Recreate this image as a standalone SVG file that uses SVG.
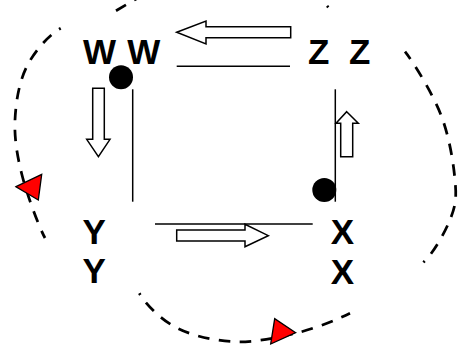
<svg xmlns="http://www.w3.org/2000/svg" width="466" height="348" viewBox="0 0 466 348">
  <style>
    .lbl { font-family: "Liberation Sans", Arial, sans-serif; font-weight: bold; font-size: 35px; fill: #000; text-anchor: middle; }
    .edge { fill: none; stroke: #000; stroke-width: 1.5; }
    .hollow { fill: #fff; stroke: #000; stroke-width: 1.5; stroke-linejoin: miter; }
    .cycle { fill: none; stroke: #000; stroke-width: 2.75; stroke-dasharray: 11.5 9.5; stroke-dashoffset: 9.5; }
    .head { fill: #ff0000; stroke: #000; stroke-width: 1.3; stroke-linejoin: miter; }
    .dot { fill: #000; }
  </style>
  <rect width="466" height="348" fill="#fff"/>

  <!-- connectors: solid sides, hollow direction arrows, dashed cycle arcs -->
  <g id="connectors">
    <line class="edge" x1="176.7" y1="66.3" x2="290" y2="66.3"/>
    <line class="edge" x1="155" y1="224" x2="312.7" y2="224"/>
    <line class="edge" x1="132.7" y1="89.3" x2="132.7" y2="201.7"/>
    <line class="edge" x1="335.3" y1="89.3" x2="335.3" y2="201.7"/>

    <polygon class="hollow" points="176.7,32.3 206,21 206,26.7 290.7,26.7 290.7,37.7 206,37.7 206,44"/>
    <polygon class="hollow" points="92.7,88.3 104.3,88.3 104.3,139.3 110,139.3 98.4,156.7 86.7,139.3 92.7,139.3"/>
    <polygon class="hollow" points="346.7,111.7 358.3,123.3 352.7,123.3 352.7,156.7 340.7,156.7 340.7,123.3 336,123.3"/>
    <polygon class="hollow" points="176.7,230 245,230 245,224.3 268.3,235.7 245,246.7 245,241 176.7,241"/>

    <!-- W to Y -->
    <path class="cycle" d="M60.7,28.3 C48.5,35.2 34.3,51.4 26.7,66.7 C19.1,82 15.8,102 15,120 C14.2,138 17,155.3 22,175 C27,194.7 38.8,226.6 45,238"/>
    <!-- Y to X -->
    <path class="cycle" d="M139.3,293.3 C145.2,303.7 161,319.9 177,328 C193,336.1 215,340.9 235,341.7 C255,342.5 277.5,337.7 296.7,333 C315.9,328.3 339.3,318.7 350,313.3"/>
    <!-- X to Z -->
    <path class="cycle" d="M423.3,262.3 C433.8,253 445.4,231.7 450.7,218 C456,204.3 456.6,197.2 455,180 C453.4,162.8 449.3,136.4 441,115 C432.7,93.6 413.2,61.8 405,51.7"/>
    <!-- Z to W, running over the top edge -->
    <path class="cycle" d="M328.3,7.3 C322,0 316,-8 305,-20"/>
    <path class="cycle" style="stroke-dashoffset:0" d="M116,10.7 L150,-9"/>

    <polygon class="head" points="16,186.7 41.7,174.3 38.3,200"/>
    <polygon class="head" points="295.7,332.7 274.7,318.6 270.7,344"/>
  </g>

  <g id="node-w">
    <text class="lbl" x="99.4" y="63.5">W</text>
    <text class="lbl" x="143.8" y="63.5">W</text>
    <circle class="dot" cx="121" cy="77.3" r="12"/>
  </g>
  <g id="node-z">
    <text class="lbl" x="318.8" y="63.5">Z</text>
    <text class="lbl" x="359.7" y="63.5">Z</text>
  </g>
  <g id="node-x">
    <circle class="dot" cx="324.3" cy="190" r="12"/>
    <text class="lbl" x="342.5" y="243.7">X</text>
    <text class="lbl" x="342.5" y="284">X</text>
  </g>
  <g id="node-y">
    <text class="lbl" x="94.3" y="243.5">Y</text>
    <text class="lbl" x="94.3" y="283">Y</text>
  </g>
</svg>
